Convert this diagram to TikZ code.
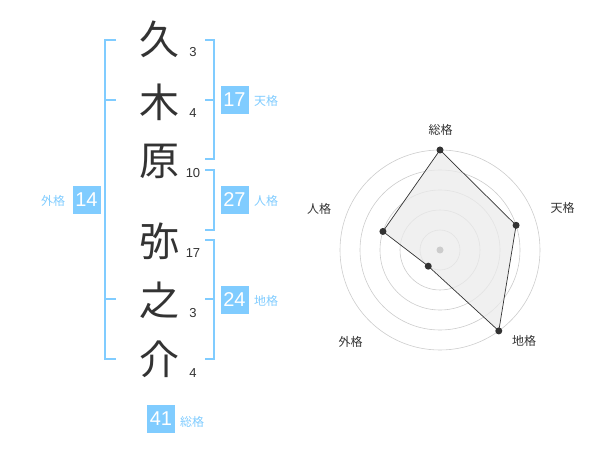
\documentclass[tikz,border=0pt]{standalone}
\usepackage{fontspec}
\setmainfont{Liberation Sans}
\newfontfamily\jp{Noto Sans CJK JP}
\definecolor{sky}{HTML}{80CCFF}
\definecolor{ink}{HTML}{333333}
\definecolor{ring}{HTML}{CCCCCC}
\definecolor{area}{HTML}{EBEBEB}
\begin{document}
\begin{tikzpicture}[x=1pt,y=-1pt,
  kanji/.style={font=\jp\fontsize{40}{40}\selectfont, text=ink, inner sep=0pt},
  strokes/.style={font=\fontsize{13}{13}\selectfont, text=ink, inner sep=0pt},
  numbox/.style={fill=sky, text=white, minimum size=28pt, inner sep=0pt, font=\fontsize{20}{20}\selectfont},
  kaku/.style={text=sky, font=\jp\fontsize{12}{12}\selectfont, inner sep=0pt},
  bracket/.style={draw=sky, line width=2pt},
  axislabel/.style={text=ink, font=\jp\fontsize{12}{12}\selectfont, inner sep=0pt},
  dot/.style={circle, fill=ink, inner sep=0pt, minimum size=7pt},
  ringline/.style={draw=ring, line width=0.6pt}]
\useasboundingbox (0,0) rectangle (600,470);

% name characters
\node[kanji] (c1) at (159,39) {久};
\node[kanji] (c2) at (159,102) {木};
\node[kanji] (c3) at (159,161) {原};
\node[kanji] (c4) at (159,241) {弥};
\node[kanji] (c5) at (159,300) {之};
\node[kanji] (c6) at (159,359) {介};

% stroke counts
\node[strokes] (n1) at (193,52) {3};
\node[strokes] (n2) at (193,113) {4};
\node[strokes] (n3) at (193,173) {10};
\node[strokes] (n4) at (193,253) {17};
\node[strokes] (n5) at (193,313) {3};
\node[strokes] (n6) at (193,373) {4};

% brackets
\draw[bracket] (116,40) -- (105,40) -- (105,359) -- (116,359);
\draw[bracket] (105,100) -- (116,100);
\draw[bracket] (105,299) -- (116,299);
\draw[bracket] (205,40) -- (214,40) -- (214,159) -- (205,159);
\draw[bracket] (214,100) -- (205,100);
\draw[bracket] (205,170) -- (214,170) -- (214,230) -- (205,230);
\draw[bracket] (205,240) -- (214,240) -- (214,359) -- (205,359);
\draw[bracket] (214,299) -- (205,299);

% boxes and labels
\node[numbox] (ten) at (234.5,100) {17};
\node[kaku] (tenl) at (266,101) {天格};
\node[numbox] (jin) at (234.5,200) {27};
\node[kaku] (jinl) at (266,201) {人格};
\node[numbox] (chi) at (234.5,300) {24};
\node[kaku] (chil) at (266,301) {地格};
\node[numbox] (gai) at (86.5,200) {14};
\node[kaku] (gail) at (53,201) {外格};
\node[numbox] (so) at (161,419) {41};
\node[kaku] (sol) at (192,422) {総格};

% radar chart
\coordinate (c) at (440,250);
\foreach \r in {20,40,60,80,100} \draw[ringline] (c) circle[radius=\r];
\coordinate (ps) at ([shift={(-90:100)}]c);
\coordinate (pt) at ([shift={(-18:80)}]c);
\coordinate (pc) at ([shift={(54:100)}]c);
\coordinate (pg) at ([shift={(126:20)}]c);
\coordinate (pj) at ([shift={(-162:60)}]c);
\fill[area, fill opacity=0.75] (ps) -- (pt) -- (pc) -- (pg) -- (pj) -- cycle;
\fill[ring] (c) circle[radius=3.5];
\draw[ink, line width=0.7pt] (ps) -- (pt) -- (pc) -- (pg) -- (pj) -- cycle;
\foreach \p in {ps,pt,pc,pg,pj} \node[dot] at (\p) {};

\node[axislabel] (as) at (440.7,130) {総格};
\node[axislabel] (at) at (562.7,208.3) {天格};
\node[axislabel] (aj) at (319,209) {人格};
\node[axislabel] (ag) at (350.7,341.7) {外格};
\node[axislabel] (ac) at (524,341) {地格};
\end{tikzpicture}
\end{document}
